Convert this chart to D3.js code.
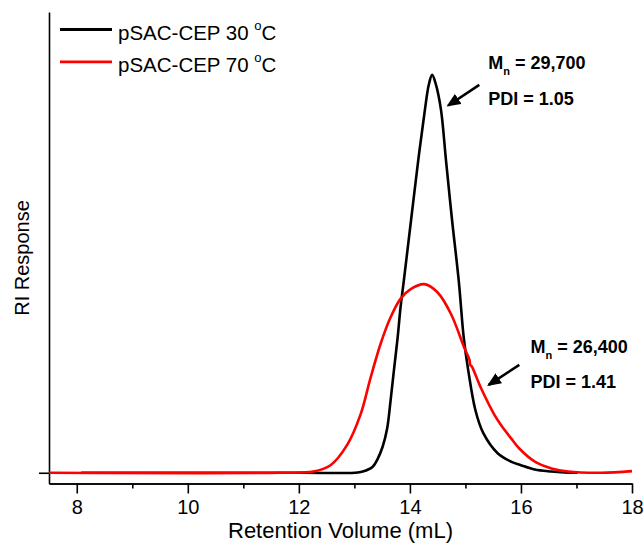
<!DOCTYPE html>
<html lang='en'>
  <head>
    <meta charset='utf-8'>
    <title>GPC traces pSAC-CEP</title>
    <script src="https://d3js.org/d3.v7.min.js" charset='utf-8'></script>
    <style type="text/css">
      body { margin: 0; background: #fff; }
      svg { display: block; font-family: 'Liberation Sans', Arial, sans-serif; }
      .trace { fill: none; stroke-width: 2.6px; stroke-linejoin: round; }
      .axis path, .axis line { stroke: #000; stroke-width: 1.6px; }
      .axis text { font-size: 20px; fill: #000; }
      .note { font-size: 18px; font-weight: bold; }
    </style>
  </head>
  <body>
    <script type="text/javascript">
      // traces (RI normalised so the 30 C peak = 1)
      var vol30 = [8.08, 12.0, 13.0, 13.15, 13.33, 13.42, 13.51, 13.59, 13.65, 13.71, 13.78, 13.83, 13.89,
                   14.02, 14.15, 14.27, 14.34, 14.40, 14.47, 14.56, 14.65, 14.76, 14.88, 14.97, 15.05,
                   15.18, 15.32, 15.58, 15.82, 16.0, 16.25, 16.55, 16.85, 17.02];
      var ri30  = [0, 0, 0, 0.003, 0.015, 0.035, 0.066, 0.111, 0.179, 0.255, 0.341, 0.414, 0.482,
                   0.634, 0.785, 0.912, 0.975, 1.0, 0.975, 0.912, 0.785, 0.634, 0.482, 0.339, 0.258,
                   0.157, 0.1, 0.049, 0.028, 0.019, 0.008, 0.003, 0, 0];
      var vol70 = [7.5, 11.66, 12.26, 12.57, 12.87, 13.11, 13.29, 13.47, 13.65, 13.83, 14.02, 14.26,
                   14.50, 14.74, 14.98, 15.07, 15.09, 15.11, 15.28, 15.52, 15.64, 15.82, 15.97, 16.25,
                   16.55, 16.85, 17.45, 18.0];
      var ri70  = [0, 0, 0.003, 0.019, 0.07, 0.146, 0.238, 0.323, 0.39, 0.437, 0.462, 0.474,
                   0.453, 0.399, 0.314, 0.285, 0.27, 0.268, 0.213, 0.146, 0.12, 0.087, 0.061, 0.028,
                   0.011, 0.003, 0, 0.004];
      var seriesNames = ['pSAC-CEP 30 ', 'pSAC-CEP 70 '];
      var seriesColors = ['#000000', '#ff0000'];
      var majorTicks = [8, 10, 12, 14, 16, 18];
      var minorTicks = [9, 11, 13, 15, 17];
      var mnLabels = ['29,700', '26,400'];
      var pdiLabels = ['1.05', '1.41'];

      var width = 644, height = 547;
      var margin = {top: 12, right: 12, bottom: 63.5, left: 49};

      var svg = d3.select('body').append('svg')
        .attr('width', width)
        .attr('height', height);

      var x = d3.scaleLinear().domain([7.5, 18]).range([margin.left, width - margin.right]);
      var y = d3.scaleLinear().domain([-0.027, 1.158]).range([height - margin.bottom, margin.top]);

      // arrowhead
      svg.append('defs').append('marker')
        .attr('id', 'head')
        .attr('markerUnits', 'userSpaceOnUse')
        .attr('markerWidth', 14).attr('markerHeight', 12)
        .attr('refX', 12).attr('refY', 6)
        .attr('orient', 'auto')
        .append('path')
        .attr('d', 'M0,0 L14,6 L0,12 Z')
        .attr('fill', '#000');

      // axes
      svg.append('g')
        .attr('class', 'axis')
        .attr('transform', 'translate(0,' + (height - margin.bottom) + ')')
        .call(d3.axisBottom(x).tickValues(majorTicks).tickSize(10).tickSizeOuter(0).tickPadding(6));
      svg.append('g')
        .attr('class', 'axis')
        .attr('transform', 'translate(0,' + (height - margin.bottom) + ')')
        .call(d3.axisBottom(x).tickValues(minorTicks).tickSize(5).tickSizeOuter(0).tickFormat(''));
      svg.append('g')
        .attr('class', 'axis')
        .attr('transform', 'translate(' + margin.left + ',0)')
        .call(d3.axisLeft(y).tickValues([0]).tickSize(10).tickSizeOuter(0).tickFormat(''));

      svg.append('text')
        .attr('x', (margin.left + width - margin.right) / 2)
        .attr('y', 538)
        .attr('text-anchor', 'middle')
        .style('font-size', '22px')
        .text('Retention Volume (mL)');
      svg.append('text')
        .attr('transform', 'translate(29,' + 258 + ') rotate(-90)')
        .attr('text-anchor', 'middle')
        .style('font-size', '20px')
        .text('RI Response');

      // traces
      var line = d3.line()
        .x(function(d) { return x(d[0]); })
        .y(function(d) { return y(d[1]); })
        .curve(d3.curveCatmullRom.alpha(0.5));
      var traces = [d3.zip(vol30, ri30), d3.zip(vol70, ri70)];
      svg.selectAll('.trace')
        .data(traces)
        .enter().append('path')
        .attr('class', 'trace')
        .attr('stroke', function(d, i) { return seriesColors[i]; })
        .attr('d', line);

      // legend
      var legend = svg.selectAll('.legend')
        .data(seriesNames)
        .enter().append('g')
        .attr('class', 'legend')
        .attr('transform', function(d, i) { return 'translate(60,' + (29.5 + i * 32.3) + ')'; });
      legend.append('line')
        .attr('x1', 0).attr('x2', 52)
        .attr('stroke', function(d, i) { return seriesColors[i]; })
        .attr('stroke-width', 2.8);
      var lt = legend.append('text')
        .attr('x', 58).attr('y', 10.5)
        .style('font-size', '20.5px');
      lt.append('tspan').text(function(d) { return d; });
      lt.append('tspan').attr('dy', -10).style('font-size', '13px').text('o');
      lt.append('tspan').attr('dy', 10).text('C');

      // Mn / PDI notes with arrows
      var notes = [
        {tail: [15.25, 0.975], tip: [14.69, 0.923], at: [15.41, 1.014], gap: 0.089},
        {tail: [15.97, 0.271], tip: [15.42, 0.221], at: [16.17, 0.300], gap: 0.088}
      ];
      notes.forEach(function(n, i) {
        svg.append('line')
          .attr('x1', x(n.tail[0])).attr('y1', y(n.tail[1]))
          .attr('x2', x(n.tip[0])).attr('y2', y(n.tip[1]))
          .attr('stroke', '#000').attr('stroke-width', 2.6)
          .attr('marker-end', 'url(#head)');
        var t = svg.append('text').attr('class', 'note')
          .attr('x', x(n.at[0])).attr('y', y(n.at[1]));
        t.append('tspan').text('M');
        t.append('tspan').attr('dy', 6).style('font-size', '11px').text('n');
        t.append('tspan').attr('dy', -6).text(' = ' + mnLabels[i]);
        svg.append('text').attr('class', 'note')
          .attr('x', x(n.at[0])).attr('y', y(n.at[1] - n.gap))
          .text('PDI = ' + pdiLabels[i]);
      });
    </script>
  </body>
</html>
